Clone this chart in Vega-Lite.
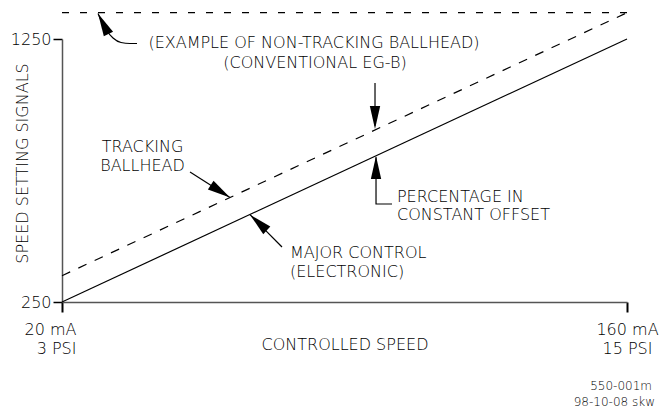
{
  "$schema": "https://vega.github.io/schema/vega-lite/v6.json",
  "width": 565,
  "height": 263,
  "autosize": {"type": "none"},
  "padding": {"left": 62, "top": 39, "right": 42, "bottom": 109},
  "background": "white",
  "config": {
    "view": {"stroke": null},
    "font": "DejaVu Sans",
    "axis": {"labelFont": "DejaVu Sans", "titleFont": "DejaVu Sans", "grid": false, "labelFontWeight": 200, "titleFontWeight": 200}
  },
  "datasets": {
    "solid": [{"x": 20, "y": 250}, {"x": 160, "y": 1250}],
    "tracking": [{"x": 20, "y": 350}, {"x": 160, "y": 1350}],
    "nontracking": [{"x": 20, "y": 1350}, {"x": 160, "y": 1350}],
    "curve": [
      {"x": 28.92, "y": 1347},
      {"x": 29.91, "y": 1314.6},
      {"x": 31.15, "y": 1280.4},
      {"x": 32.64, "y": 1253.8},
      {"x": 34.62, "y": 1236.7},
      {"x": 36.85, "y": 1232.9},
      {"x": 38.58, "y": 1232.9}
    ],
    "shafts": [
      {"id": "a2", "o": 1, "x": 97.56, "y": 1082.7},
      {"id": "a2", "o": 2, "x": 97.56, "y": 920},
      {"id": "a3", "o": 1, "x": 51.72, "y": 744.3},
      {"id": "a3", "o": 2, "x": 61.63, "y": 647},
      {"id": "a4", "o": 1, "x": 74.51, "y": 459.1},
      {"id": "a4", "o": 2, "x": 66.58, "y": 582},
      {"id": "a5", "o": 1, "x": 101.77, "y": 622.6},
      {"id": "a5", "o": 2, "x": 97.81, "y": 622.6},
      {"id": "a5", "o": 3, "x": 97.81, "y": 800}
    ],
    "heads": [
      {"x": 28.92, "y": 1347, "angle": -27},
      {"x": 97.56, "y": 908, "angle": 180},
      {"x": 61.63, "y": 647, "angle": 123},
      {"x": 66.58, "y": 582, "angle": -47},
      {"x": 97.81, "y": 805, "angle": 0}
    ],
    "centerText": [
      {"x": 82.44, "y": 1234.8, "t": "(EXAMPLE OF NON-TRACKING BALLHEAD)"},
      {"x": 82.69, "y": 1158.7, "t": "(CONVENTIONAL EG-B)"},
      {"x": 39.95, "y": 839.4, "t": "TRACKING"},
      {"x": 39.95, "y": 767.1, "t": "BALLHEAD"}
    ],
    "leftText": [
      {"x": 76.5, "y": 436.3, "t": "MAJOR CONTROL"},
      {"x": 76.5, "y": 364.1, "t": "(ELECTRONIC)"},
      {"x": 103.0, "y": 649.2, "t": "PERCENTAGE IN"},
      {"x": 103.0, "y": 580.8, "t": "CONSTANT OFFSET"}
    ],
    "rightText": [
      {"x": 166.2, "y": -69.4, "t": "550-001m"},
      {"x": 166.94, "y": -130.2, "t": "98-10-08 skw"}
    ]
  },
  "encoding": {
    "x": {
      "field": "x",
      "type": "quantitative",
      "scale": {"domain": [20, 160], "nice": false, "zero": false},
      "axis": {
        "values": [20, 160],
        "labelExpr": "datum.value == 20 ? ['20 mA', '3 PSI'] : ['160 mA', '15 PSI']",
        "labelFontSize": 16,
        "labelColor": "black",
        "labelLineHeight": 19,
        "labelFlush": false,
        "labelOverlap": false,
        "labelBound": false,
        "labelAlign": {"condition": {"test": "datum.value == 20", "value": "right"}, "value": "center"},
        "labelOffset": {"condition": {"test": "datum.value == 20", "value": 14}, "value": 0},
        "labelPadding": 9,
        "tickSize": 10,
        "tickWidth": 2,
        "tickColor": "black",
        "domainColor": "#555",
        "domainWidth": 1.5,
        "title": "CONTROLLED SPEED",
        "titleFontSize": 16,
        "titleColor": "black",
        "titleY": 42,
        "titleBaseline": "middle"
      }
    },
    "y": {
      "field": "y",
      "type": "quantitative",
      "scale": {"domain": [250, 1250], "nice": false, "zero": false},
      "axis": {
        "values": [250, 1250],
        "format": "d",
        "labelFontSize": 16,
        "labelColor": "black",
        "labelFlush": false,
        "labelOverlap": false,
        "labelBaseline": "middle",
        "labelPadding": 2,
        "tickSize": 9,
        "tickWidth": 1.5,
        "tickColor": "black",
        "domainColor": "#555",
        "domainWidth": 1.5,
        "title": "SPEED SETTING SIGNALS",
        "titleFontSize": 16,
        "titleColor": "black",
        "titleX": -40,
        "titleY": 124,
        "titleAlign": "center",
        "titleBaseline": "middle"
      }
    }
  },
  "layer": [
    {"data": {"name": "solid"}, "mark": {"type": "line", "color": "black", "strokeWidth": 1.2}},
    {"data": {"name": "tracking"}, "mark": {"type": "line", "color": "black", "strokeWidth": 1.2, "strokeDash": [9, 9]}},
    {"data": {"name": "nontracking"}, "mark": {"type": "line", "color": "black", "strokeWidth": 1.2, "strokeDash": [7, 11]}},
    {"data": {"name": "curve"}, "mark": {"type": "line", "color": "black", "strokeWidth": 1.2, "interpolate": "monotone"}},
    {
      "data": {"name": "shafts"},
      "mark": {"type": "line", "color": "black", "strokeWidth": 1.2},
      "encoding": {"detail": {"field": "id"}, "order": {"field": "o", "type": "quantitative"}}
    },
    {
      "data": {"name": "heads"},
      "mark": {"type": "point", "filled": true, "color": "black", "opacity": 1, "shape": "M0,0L0.45,2L-0.45,2Z", "size": 529},
      "encoding": {"angle": {"field": "angle", "type": "quantitative", "scale": null}}
    },
    {
      "data": {"name": "centerText"},
      "mark": {"type": "text", "align": "center", "baseline": "middle", "fontSize": 16, "fontWeight": 200, "color": "black"},
      "encoding": {"text": {"field": "t"}}
    },
    {
      "data": {"name": "leftText"},
      "mark": {"type": "text", "align": "left", "baseline": "middle", "fontSize": 16, "fontWeight": 200, "color": "black"},
      "encoding": {"text": {"field": "t"}}
    },
    {
      "data": {"name": "rightText"},
      "mark": {"type": "text", "align": "right", "baseline": "middle", "fontSize": 12, "fontWeight": 200, "color": "black"},
      "encoding": {"text": {"field": "t"}}
    }
  ]
}
